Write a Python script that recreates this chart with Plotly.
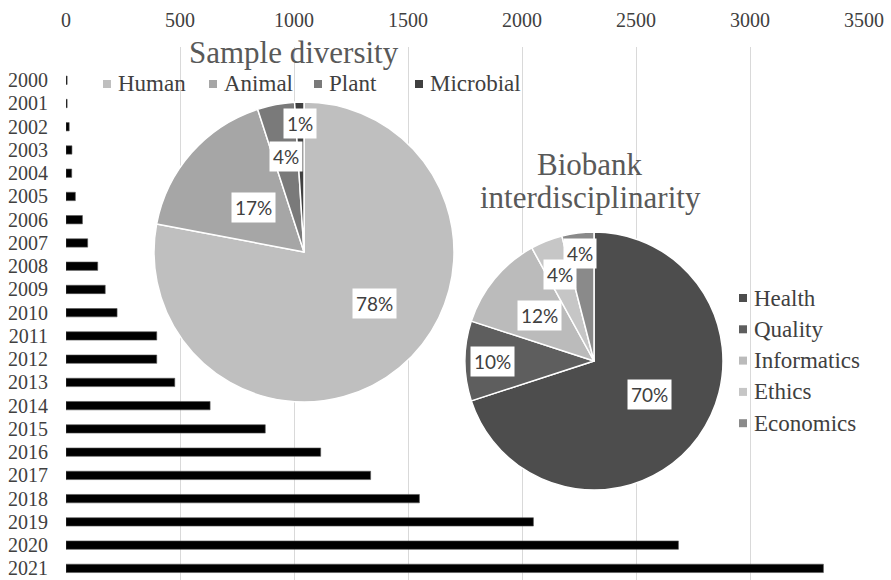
import math
import plotly.graph_objects as go

# Yearly counts (horizontal bars)
years = [str(y) for y in range(2000, 2022)]
counts = [5, 5, 14, 26, 25, 41, 72, 95, 139, 172, 224, 398, 398, 477, 632, 874,
          1117, 1336, 1550, 2050, 2686, 3322]

# Sample diversity pie
sample_labels = ["Human", "Animal", "Plant", "Microbial"]
sample_values = [78, 17, 4, 1]
sample_colors = ["#bfbfbf", "#a6a6a6", "#7a7a7a", "#404040"]

# Biobank interdisciplinarity pie
disc_labels = ["Health", "Quality", "Informatics", "Ethics", "Economics"]
disc_values = [70, 10, 12, 4, 4]
disc_colors = ["#4d4d4d", "#5e5e5e", "#bbbbbb", "#c6c6c6", "#8a8a8a"]

W, H = 891, 580
M = dict(l=66, r=27, t=47, b=0)
PW = W - M["l"] - M["r"]
PH = H - M["t"] - M["b"]

SERIF = "Liberation Serif"
SANS = "Lato"
TEXT = "#404040"


def px_to_paper(x, y):
    return (x - M["l"]) / PW, (H - M["b"] - y) / PH


def pie_domain(cx, cy, r):
    x0, y1 = px_to_paper(cx - r, cy - r)
    x1, y0 = px_to_paper(cx + r, cy + r)
    return dict(x=[x0, x1], y=[y0, y1])


fig = go.Figure()

fig.add_trace(go.Bar(
    y=years, x=counts, orientation="h",
    marker=dict(color="#000000", line=dict(color="#555555", width=0.6)),
    showlegend=False, hoverinfo="x+y",
))

# pie geometry (centre px, radius px)
P1 = (304, 252, 150)
P2 = (594, 361, 129)

for labels, values, colors, geom in [
    (sample_labels, sample_values, sample_colors, P1),
    (disc_labels, disc_values, disc_colors, P2),
]:
    fig.add_trace(go.Pie(
        labels=labels, values=values, sort=False,
        direction="clockwise", rotation=0,
        marker=dict(colors=colors, line=dict(color="white", width=1.5)),
        textinfo="none", domain=pie_domain(*geom), showlegend=False,
    ))


def note(x, y, text, size, family=SERIF, color=TEXT, xanchor="center", **kw):
    px, py = px_to_paper(x, y)
    return dict(x=px, y=py, xref="paper", yref="paper", showarrow=False,
                text=text, xanchor=xanchor, yanchor="middle",
                font=dict(family=family, size=size, color=color), **kw)


def pie_labels(values, geom, radial, shift):
    cx, cy, r = geom
    total = sum(values)
    acc = 0
    out = []
    for v, f, s in zip(values, radial, shift):
        mid = (acc + v / 2) / total * 360 + s
        acc += v
        a = math.radians(mid)
        out.append(note(cx + f * r * math.sin(a), cy - f * r * math.cos(a),
                        f"{round(v / total * 100)}%", 19, family=SANS,
                        bgcolor="white", borderpad=3))
    return out


annotations = []
shapes = []
annotations += pie_labels(sample_values, P1, [0.58, 0.45, 0.65, 0.86], [-14, 0, 0, 0])
annotations += pie_labels(disc_values, P2, [0.5, 0.79, 0.55, 0.72, 0.84], [-5, 0, 0, 0, 0])

annotations.append(note(294, 53, "Sample diversity", 31, color="#595959"))
annotations.append(note(590, 164, "Biobank", 31, color="#595959"))
annotations.append(note(590, 197, "interdisciplinarity", 31, color="#595959"))


def legend_item(mx, my, text, color):
    x0, y0 = px_to_paper(mx - 4, my + 4)
    x1, y1 = px_to_paper(mx + 4, my - 4)
    shapes.append(dict(type="rect", xref="paper", yref="paper",
                       x0=x0, x1=x1, y0=y0, y1=y1,
                       fillcolor=color, line=dict(width=0)))
    annotations.append(note(mx + 9, my, text, 23, xanchor="left"))


# horizontal legend of the sample pie
for mx, lab, col in zip([107, 213, 318, 419], sample_labels, sample_colors):
    legend_item(mx, 84, lab, col)

# vertical legend of the discipline pie
for i, (lab, col) in enumerate(zip(disc_labels, disc_colors)):
    legend_item(743, 298 + 31.3 * i, lab, col)

fig.update_layout(
    width=W, height=H, margin=M,
    paper_bgcolor="white", plot_bgcolor="white",
    bargap=0.64,
    annotations=annotations,
    shapes=shapes,
    xaxis=dict(side="top", range=[0, 3500], dtick=500,
               showgrid=True, gridcolor="#d9d9d9", gridwidth=1,
               zeroline=False, showline=False,
               ticks="outside", ticklen=11, tickcolor="rgba(0,0,0,0)",
               tickfont=dict(family=SERIF, size=20, color=TEXT)),
    yaxis=dict(type="category", categoryorder="array", categoryarray=years,
               tickmode="array", tickvals=years, ticktext=years,
               range=[21.5, -1.43], showgrid=False, zeroline=False, showline=False,
               ticks="outside", ticklen=13, tickcolor="rgba(0,0,0,0)",
               tickfont=dict(family=SERIF, size=20, color=TEXT)),
)

fig.write_html("out.html")
